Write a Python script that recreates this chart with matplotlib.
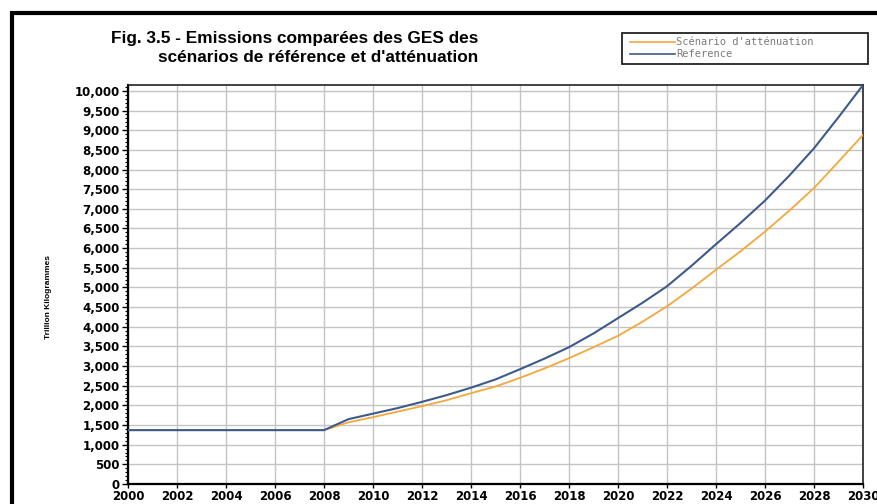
import matplotlib
matplotlib.use("Agg")
import matplotlib.pyplot as plt
from matplotlib.patches import Rectangle
from matplotlib.lines import Line2D
from matplotlib.ticker import FuncFormatter, MultipleLocator

years = list(range(2000, 2031))
attenuation = [1370] * 9 + [1570, 1700, 1840, 1980, 2130, 2310, 2480, 2700, 2940, 3200,
                            3480, 3770, 4130, 4520, 4970, 5450, 5920, 6420, 6960, 7530,
                            8200, 8880]
reference = [1370] * 9 + [1650, 1790, 1930, 2090, 2260, 2450, 2660, 2920, 3190, 3480,
                          3830, 4220, 4610, 5030, 5550, 6100, 6640, 7210, 7850, 8540,
                          9330, 10150]
series_labels = ["Scénario d'atténuation", "Reference"]
title_text = "Fig. 3.5 - Emissions comparées des GES des\nscénarios de référence et d'atténuation"
y_label = "Trillion Kilogrammes"

c_att = "#f3a83b"
c_ref = "#3d5b8a"

W, H = 877, 504
fig = plt.figure(figsize=(W / 100, H / 100), dpi=100)
fig.patch.set_facecolor("white")

def fx(px):
    return px / W

def fy(py):
    return 1 - py / H

# outer frame
fig.patches.append(Rectangle((fx(12), fy(530)), fx(900), fy(13) - fy(530),
                             transform=fig.transFigure, fill=False,
                             edgecolor="black", linewidth=3))

ax = fig.add_axes([fx(128), fy(484), fx(863) - fx(128), fy(85) - fy(484)])
ax.set_facecolor("white")
ax.plot(years, attenuation, color=c_att, lw=1.3, zorder=3)
ax.plot(years, reference, color=c_ref, lw=1.5, zorder=4)

ax.set_xlim(2000, 2030)
ax.set_ylim(0, 10150)
ax.xaxis.set_major_locator(MultipleLocator(2))
ax.yaxis.set_major_locator(MultipleLocator(500))
ax.yaxis.set_minor_locator(MultipleLocator(100))
ax.yaxis.set_major_formatter(FuncFormatter(lambda v, p: f"{int(v):,}"))
ax.grid(True, which="major", color="#c4c4c4", lw=1.0, zorder=0)

ax.tick_params(axis="x", labelsize=8.5, length=3, pad=1.5, width=1)
ax.tick_params(axis="y", labelsize=8.5, length=4, pad=2, width=1)
ax.tick_params(axis="y", which="minor", length=2, width=0.8)
for lab in ax.get_xticklabels() + ax.get_yticklabels():
    lab.set_fontweight("bold")

for side in ["left", "bottom"]:
    ax.spines[side].set_linewidth(1.6)
for side in ["top", "right"]:
    ax.spines[side].set_linewidth(1.2)
    ax.spines[side].set_color("#222222")

fig.text(fx(48), fy(297), y_label, rotation=90, ha="center", va="center",
         fontsize=6, fontweight="bold", family="Liberation Sans")

fig.text(fx(478), fy(48), title_text, ha="right", va="center",
         multialignment="right", fontsize=12.4, fontweight="bold",
         family="Liberation Sans", linespacing=1.3)

# legend box
fig.patches.append(Rectangle((fx(622), fy(64)), fx(868) - fx(622), fy(33) - fy(64),
                             transform=fig.transFigure, fill=True, facecolor="white",
                             edgecolor="#222222", linewidth=1.3))
for y_px, col, txt in [(42, c_att, series_labels[0]), (54, c_ref, series_labels[1])]:
    fig.lines.append(Line2D([fx(630), fx(675)], [fy(y_px), fy(y_px)],
                            transform=fig.transFigure, color=col, lw=1.2))
    fig.text(fx(676), fy(y_px), txt, ha="left", va="center", fontsize=7.5,
             color="#7a7a7a", family="DejaVu Sans Mono")

fig.savefig("out.png", dpi=100)
